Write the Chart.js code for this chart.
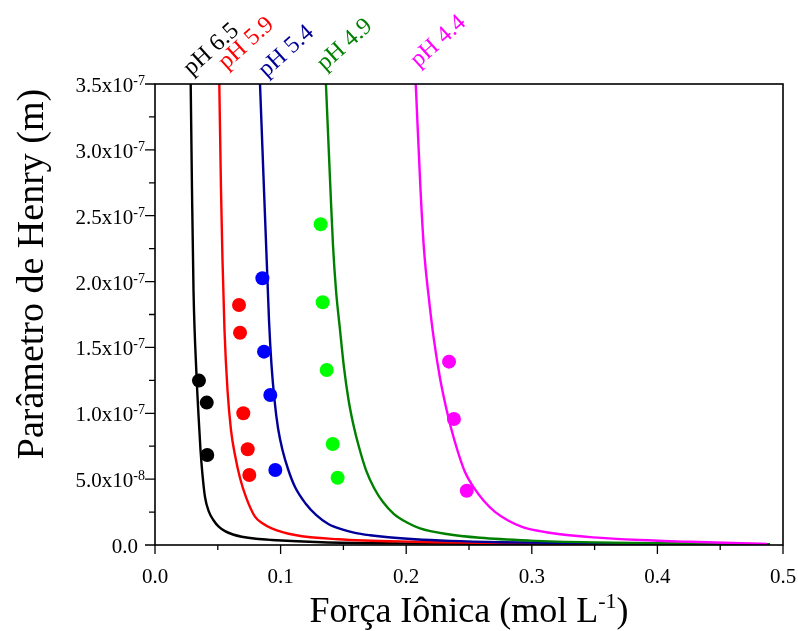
<!DOCTYPE html>
<html>
<head>
<meta charset="utf-8">
<script src="https://cdn.jsdelivr.net/npm/chart.js@4/dist/chart.umd.min.js"></script>
<style>
  body { margin: 0; background: #fff; }
  #wrap { width: 798px; height: 631px; }
</style>
</head>
<body>
<div id="wrap"><canvas id="henryChart" width="798" height="631"></canvas></div>
<script>
// fitted curves (y in units of 1e-7 m)
const ph65CurveX = [0.02842, 0.02946, 0.03065, 0.03304, 0.03463, 0.03623, 0.03782, 0.03981, 0.04299, 0.04642, 0.05096, 0.05573, 0.0621, 0.06903, 0.08041, 0.09291, 0.1327, 0.1951, 0.3145, 0.4896];
const ph65CurveY = [3.5, 2.696, 1.936, 1.291, 0.987, 0.721, 0.532, 0.364, 0.251, 0.190, 0.137, 0.105, 0.0797, 0.0630, 0.0471, 0.0380, 0.0205, 0.0121, 0.0068, 0.0038];

const ph59CurveX = [0.0512, 0.05255, 0.05374, 0.05533, 0.05772, 0.06051, 0.06369, 0.06768, 0.07245, 0.07962, 0.08519, 0.09291, 0.1115, 0.1457, 0.207, 0.3145, 0.4896];
const ph59CurveY = [3.5, 2.696, 2.164, 1.633, 1.177, 0.873, 0.683, 0.509, 0.364, 0.215, 0.167, 0.127, 0.0759, 0.0433, 0.0251, 0.0137, 0.0061];

const ph54CurveX = [0.0836, 0.08678, 0.08893, 0.09076, 0.09275, 0.09514, 0.09793, 0.1015, 0.1059, 0.1115, 0.1202, 0.1282, 0.138, 0.1489, 0.1592, 0.1712, 0.1858, 0.207, 0.2349, 0.2747, 0.3543, 0.4896];
const ph54CurveY = [3.5, 2.696, 2.164, 1.708, 1.367, 1.101, 0.888, 0.721, 0.577, 0.440, 0.311, 0.228, 0.159, 0.118, 0.0926, 0.0744, 0.0585, 0.0433, 0.0311, 0.0213, 0.0121, 0.0053];

const ph49CurveX = [0.1361, 0.1397, 0.1417, 0.1441, 0.1473, 0.1505, 0.1541, 0.158, 0.1624, 0.168, 0.1744, 0.1815, 0.1903, 0.2006, 0.211, 0.2322, 0.2588, 0.2986, 0.3487, 0.418, 0.4896];
const ph49CurveY = [3.5, 2.696, 2.278, 1.936, 1.633, 1.344, 1.101, 0.911, 0.744, 0.569, 0.433, 0.326, 0.235, 0.171, 0.127, 0.0835, 0.0547, 0.0334, 0.0197, 0.0106, 0.0053];

const ph44CurveX = [0.2076, 0.2114, 0.2142, 0.2182, 0.2221, 0.2269, 0.2313, 0.2357, 0.2412, 0.2468, 0.254, 0.2619, 0.2707, 0.2811, 0.2922, 0.3065, 0.3225, 0.3487, 0.3861, 0.426, 0.4873];
const ph44CurveY = [3.5, 2.696, 2.240, 1.860, 1.557, 1.268, 1.063, 0.888, 0.706, 0.554, 0.433, 0.334, 0.251, 0.186, 0.138, 0.105, 0.0812, 0.0577, 0.038, 0.0243, 0.0076];

// experimental points
const ph65PointsX = [0.035, 0.0412, 0.0416];
const ph65PointsY = [1.248, 1.081, 0.683];
const ph59PointsX = [0.0669, 0.0677, 0.0703, 0.0738, 0.0751];
const ph59PointsY = [1.822, 1.612, 1.00, 0.727, 0.532];
const ph54PointsX = [0.0855, 0.0868, 0.0918, 0.0958];
const ph54PointsY = [2.025, 1.468, 1.139, 0.569];
const ph49PointsX = [0.1319, 0.1335, 0.1367, 0.1415, 0.1454];
const ph49PointsY = [2.435, 1.843, 1.329, 0.767, 0.511];
const ph44PointsX = [0.2341, 0.238, 0.2482];
const ph44PointsY = [1.392, 0.957, 0.412];

// pH labels, anchored just above the top of each curve
const phLabels = ['pH 6.5', 'pH 5.9', 'pH 5.4', 'pH 4.9', 'pH 4.4'];
const phLabelX = [0.0289, 0.0568, 0.0886, 0.1352, 0.2096];
const phLabelY = [3.561, 3.607, 3.546, 3.596, 3.622];

const xTicks = [0, 0.1, 0.2, 0.3, 0.4, 0.5];
const xTickLabels = ['0.0', '0.1', '0.2', '0.3', '0.4', '0.5'];
const yTicks = [0, 0.5e-7, 1.0e-7, 1.5e-7, 2.0e-7, 2.5e-7, 3.0e-7, 3.5e-7];
const yTickBase = ['0.0', '5.0x10', '1.0x10', '1.5x10', '2.0x10', '2.5x10', '3.0x10', '3.5x10'];
const yTickExp = ['', '-8', '-7', '-7', '-7', '-7', '-7', '-7'];

const SERIF = '"Liberation Serif", "Times New Roman", serif';
const Y_UNIT = 1e-7;

function toPoints(xs, ys) {
    return xs.map((x, i) => ({ x: x, y: ys[i] * Y_UNIT }));
}

const series = [
    { cx: ph65CurveX, cy: ph65CurveY, px: ph65PointsX, py: ph65PointsY, line: '#000000', dot: '#000000' },
    { cx: ph59CurveX, cy: ph59CurveY, px: ph59PointsX, py: ph59PointsY, line: '#FF0000', dot: '#FF0000' },
    { cx: ph54CurveX, cy: ph54CurveY, px: ph54PointsX, py: ph54PointsY, line: '#000099', dot: '#0000FF' },
    { cx: ph49CurveX, cy: ph49CurveY, px: ph49PointsX, py: ph49PointsY, line: '#008000', dot: '#00FF00' },
    { cx: ph44CurveX, cy: ph44CurveY, px: ph44PointsX, py: ph44PointsY, line: '#FF00FF', dot: '#FF00FF' }
];

const datasets = [];
series.forEach((s, i) => {
    datasets.push({
        label: phLabels[i] + ' fit',
        data: toPoints(s.cx, s.cy),
        showLine: true,
        borderColor: s.line,
        borderWidth: 2.4,
        pointRadius: 0,
        cubicInterpolationMode: 'monotone',
        order: 10 - i
    });
    datasets.push({
        label: phLabels[i],
        data: toPoints(s.px, s.py),
        showLine: false,
        pointRadius: 7,
        pointBackgroundColor: s.dot,
        pointBorderWidth: 0,
        order: 0
    });
});

// frame, ticks, tick labels, titles and pH labels
const decorPlugin = {
    id: 'decor',
    afterDraw(chart) {
        const { ctx, chartArea: a, scales: { x, y } } = chart;
        ctx.save();
        ctx.strokeStyle = '#000';
        ctx.lineWidth = 1.6;
        ctx.strokeRect(a.left, a.top, a.right - a.left, a.bottom - a.top);

        ctx.lineWidth = 1.3;
        ctx.beginPath();
        xTicks.forEach((v, i) => {
            const px = x.getPixelForValue(v);
            ctx.moveTo(px, a.bottom); ctx.lineTo(px, a.bottom + 9);
            if (i < xTicks.length - 1) {
                const mx = x.getPixelForValue((v + xTicks[i + 1]) / 2);
                ctx.moveTo(mx, a.bottom); ctx.lineTo(mx, a.bottom + 5);
            }
        });
        yTicks.forEach((v, i) => {
            const py = y.getPixelForValue(v);
            ctx.moveTo(a.left, py); ctx.lineTo(a.left - 10, py);
            if (i < yTicks.length - 1) {
                const my = y.getPixelForValue((v + yTicks[i + 1]) / 2);
                ctx.moveTo(a.left, my); ctx.lineTo(a.left - 6, my);
            }
        });
        ctx.stroke();

        ctx.fillStyle = '#000';
        ctx.font = '21px ' + SERIF;
        ctx.textAlign = 'center';
        ctx.textBaseline = 'alphabetic';
        xTicks.forEach((v, i) => {
            ctx.fillText(xTickLabels[i], x.getPixelForValue(v), a.bottom + 38);
        });

        ctx.textAlign = 'right';
        yTicks.forEach((v, i) => {
            const py = y.getPixelForValue(v);
            if (!yTickExp[i]) {
                ctx.font = '21px ' + SERIF;
                ctx.fillText(yTickBase[i], a.left - 17, py + 8);
                return;
            }
            ctx.font = '14px ' + SERIF;
            const expW = ctx.measureText(yTickExp[i]).width;
            ctx.fillText(yTickExp[i], a.left - 10, py + 1);
            ctx.font = '21px ' + SERIF;
            ctx.fillText(yTickBase[i], a.left - 10 - expW, py + 8);
        });

        // x title with superscript
        ctx.textAlign = 'left';
        const t1 = 'Força Iônica (mol L';
        ctx.font = '36px ' + SERIF;
        const w1 = ctx.measureText(t1).width;
        ctx.font = '22px ' + SERIF;
        const w2 = ctx.measureText('-1').width;
        ctx.font = '36px ' + SERIF;
        const w3 = ctx.measureText(')').width;
        const sx = (a.left + a.right) / 2 - (w1 + w2 + w3) / 2;
        const by = a.bottom + 77;
        ctx.fillText(t1, sx, by);
        ctx.font = '22px ' + SERIF;
        ctx.fillText('-1', sx + w1, by - 14);
        ctx.font = '36px ' + SERIF;
        ctx.fillText(')', sx + w1 + w2, by);

        // y title
        ctx.save();
        ctx.translate(43, 274);
        ctx.rotate(-Math.PI / 2);
        ctx.textAlign = 'center';
        ctx.font = '38px ' + SERIF;
        ctx.fillText('Parâmetro de Henry (m)', 0, 0);
        ctx.restore();

        // pH labels above the top frame
        ctx.font = '24px ' + SERIF;
        ctx.textAlign = 'left';
        phLabels.forEach((txt, i) => {
            ctx.save();
            ctx.translate(x.getPixelForValue(phLabelX[i]), y.getPixelForValue(phLabelY[i] * Y_UNIT));
            ctx.rotate(-42 * Math.PI / 180);
            ctx.fillStyle = series[i].line;
            ctx.fillText(txt, 0, 0);
            ctx.restore();
        });
        ctx.restore();
    }
};

new Chart(document.getElementById('henryChart'), {
    type: 'scatter',
    data: { datasets: datasets },
    options: {
        responsive: false,
        animation: false,
        layout: { padding: { top: 84, right: 15, bottom: 86, left: 155 } },
        plugins: { legend: { display: false }, tooltip: { enabled: false } },
        scales: {
            x: { type: 'linear', display: false, min: 0, max: 0.5 },
            y: { type: 'linear', display: false, min: 0, max: 3.5e-7 }
        }
    },
    plugins: [decorPlugin]
});
</script>
</body>
</html>
